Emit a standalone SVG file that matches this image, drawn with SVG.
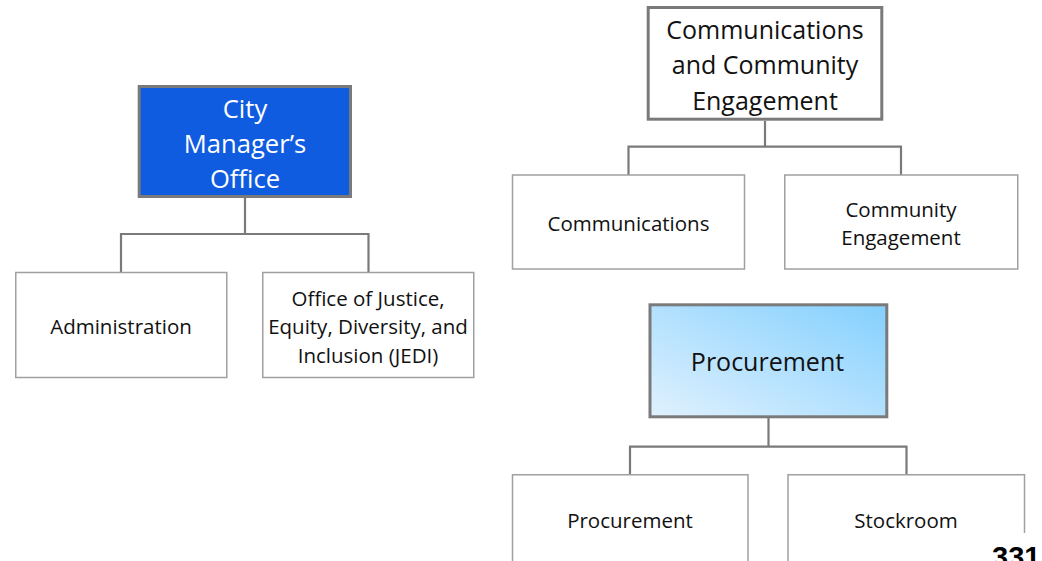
<svg xmlns="http://www.w3.org/2000/svg" width="1042" height="561" viewBox="0 0 1042 561">
<defs>
<linearGradient id="procGrad" x1="0" y1="1" x2="1" y2="0">
<stop offset="0" stop-color="#E0F1FE"/>
<stop offset="1" stop-color="#84D0FE"/>
</linearGradient>
<style>
.parent{stroke:#7A7A7A;stroke-width:3}
.child{fill:#FFFFFF;stroke:#A0A0A0;stroke-width:1.5}
.conn{fill:none;stroke:#7A7A7A;stroke-width:2.2}
.t{font-family:"Open Sans","Noto Sans","Liberation Sans",sans-serif;text-anchor:middle;fill:#111111}
.big{font-size:25px}
.small{font-size:20.5px}
</style>
</defs>
<rect width="1042" height="561" fill="#FFFFFF"/>
<g id="connectors">
<path class="conn" d="M245 198V234M121 273V234H368.5V273"/>
<path class="conn" d="M765 121V146.7M628.5 175V146.7H901V175"/>
<path class="conn" d="M768.5 418V446.7M630 475V446.7H906.5V475"/>
</g>
<g id="city-manager">
<rect class="parent" x="139.2" y="86.5" width="211.3" height="110" fill="#105CE0"/>
<text class="t big" x="245" y="118.3" style="fill:#FFFFFF;font-size:25.6px">City</text>
<text class="t big" x="245" y="152.7" style="fill:#FFFFFF;font-size:25.6px">Manager’s</text>
<text class="t big" x="245" y="188.3" style="fill:#FFFFFF;font-size:25.6px">Office</text>
</g>
<g id="administration">
<rect class="child" x="15.75" y="272.5" width="211" height="105"/>
<text class="t small" x="121" y="334.3">Administration</text>
</g>
<g id="jedi">
<rect class="child" x="262.75" y="272.5" width="211" height="105"/>
<text class="t small" x="368" y="306">Office of Justice,</text>
<text class="t small" x="368" y="334">Equity, Diversity, and</text>
<text class="t small" x="368" y="362.5">Inclusion (JEDI)</text>
</g>
<g id="comm-engagement">
<rect class="parent" x="648.2" y="7.5" width="233.6" height="111.7" fill="#FFFFFF"/>
<text class="t big" x="765" y="38.5">Communications</text>
<text class="t big" x="765" y="74">and Community</text>
<text class="t big" x="765" y="109.8">Engagement</text>
</g>
<g id="communications">
<rect class="child" x="512.5" y="175" width="232" height="94"/>
<text class="t small" x="628.5" y="230.7">Communications</text>
</g>
<g id="community-engagement">
<rect class="child" x="784.75" y="175" width="233" height="94"/>
<text class="t small" x="901" y="216.7">Community</text>
<text class="t small" x="901" y="245">Engagement</text>
</g>
<g id="procurement-dept">
<rect class="parent" x="650" y="304.8" width="236.8" height="112" fill="url(#procGrad)"/>
<text class="t big" x="767.5" y="371">Procurement</text>
</g>
<g id="procurement">
<rect class="child" x="512.5" y="474.75" width="235.5" height="100"/>
<text class="t small" x="630" y="527.7">Procurement</text>
</g>
<g id="stockroom">
<rect class="child" x="788" y="474.75" width="236.5" height="100"/>
<text class="t small" x="906" y="527.7">Stockroom</text>
</g>
<g id="page-number">
<rect x="960" y="533" width="82" height="28" fill="#FFFFFF"/>
<text x="992" y="567" style="font-family:'Liberation Sans',Arial,sans-serif;font-weight:bold;font-size:29px;fill:#000000">331</text>
</g>
</svg>
